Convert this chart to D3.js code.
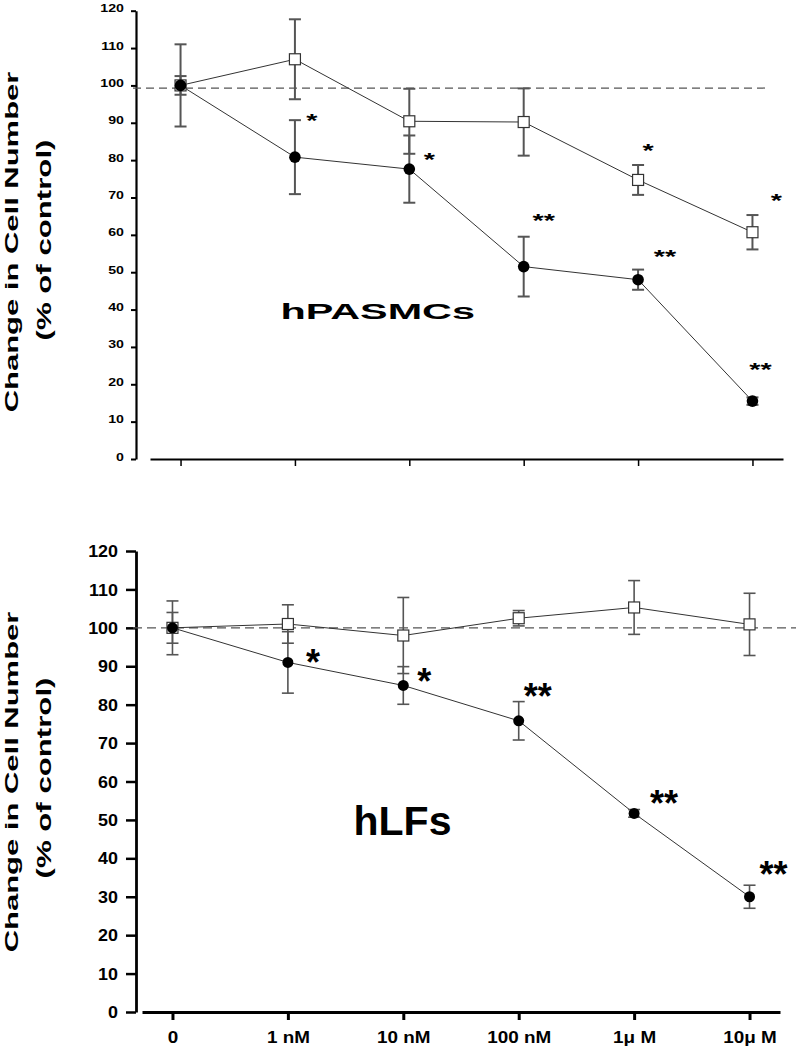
<!DOCTYPE html>
<html>
<head>
<meta charset="utf-8">
<script src="https://cdn.jsdelivr.net/npm/d3@7/dist/d3.min.js"></script>
<style>
  html, body { margin: 0; padding: 0; background: #fff; }
  svg { display: block; }
  text { font-family: "Liberation Sans", Arial, sans-serif; font-weight: bold; fill: #000; }
</style>
</head>
<body>
<svg id="chart" width="796" height="1050"></svg>
<script>
// ---------------- data ----------------
const categories = ["0", "1 nM", "10 nM", "100 nM", "1\u03bc M", "10\u03bc M"];
const yTicks = [0, 10, 20, 30, 40, 50, 60, 70, 80, 90, 100, 110, 120];

// Top panel: hPASMCs
const pasmcSquare    = [100, 107, 90.4, 90.2, 74.7, 60.7];
const pasmcSquareErr = [11, 10.7, 8.7, 9, 4, 4.6];
const pasmcCircle    = [100, 80.8, 77.6, 51.5, 48, 15.5];
const pasmcCircleErr = [2.5, 9.9, 9, 8, 2.7, 1];
const pasmcRef = 99.3;
const pasmcStars = [
  { cat: 1, y: 91.6, text: "*" },
  { cat: 2, y: 81.2, text: "*" },
  { cat: 3, y: 64.8, text: "**" },
  { cat: 4, y: 83.6, text: "*" },
  { cat: 5, y: 70.2, text: "*" },
  { cat: 4, y: 55.2, text: "**" },
  { cat: 5, y: 24.9, text: "**" }
];

// Bottom panel: hLFs
const hlfSquare    = [100, 101, 98, 102.5, 105.3, 100.9];
const hlfSquareErr = [7, 5, 9.9, 2, 7, 8.1];
const hlfCircle    = [100, 91, 85, 75.8, 51.7, 30];
const hlfCircleErr = [4, 8, 4.9, 5, 1, 3];
const hlfRef = 100;
const hlfStars = [
  { cat: 1, y: 92.9, text: "*" },
  { cat: 2, y: 87.9, text: "*" },
  { cat: 3, y: 84.0, text: "**" },
  { cat: 4, y: 56.2, text: "**" },
  { cat: 5, y: 37.7, text: "**" }
];

const yLabel1 = "Change in Cell Number";
const yLabel2 = "(% of control)";

// ---------------- drawing ----------------
const svg = d3.select("#chart");
svg.append("rect").attr("width", 796).attr("height", 1050).attr("fill", "#fff");

function drawPanel(cfg) {
  const g = svg.append("g");
  const x = d3.scalePoint().domain(categories).range(cfg.xRange).padding(cfg.xPad);
  const y = d3.scaleLinear().domain([0, 120]).range(cfg.yRange);

  // y axis
  const ya = g.append("g").attr("transform", `translate(${cfg.yAxisX},0)`)
    .call(d3.axisLeft(y).tickValues(yTicks).tickSize(cfg.yTickLen).tickSizeOuter(0));
  ya.select(".domain").attr("stroke", "#000").attr("stroke-width", cfg.axisW);
  ya.selectAll(".tick line").attr("stroke", "#000").attr("stroke-width", cfg.tickW);
  ya.selectAll(".tick text")
    .attr("x", 0).attr("dy", cfg.yLabDy).attr("text-anchor", "end")
    .attr("transform", `translate(${-cfg.yLabOff},${cfg.yLabShift}) scale(${cfg.yLabSx},1)`)
    .style("font-size", cfg.yLabSize + "px")
    .style("font-family", "'Liberation Sans', Arial, sans-serif")
    .style("font-weight", "bold");

  // x axis
  const xa = g.append("g").attr("transform", `translate(0,${cfg.yRange[0]})`)
    .call(d3.axisBottom(x).tickSize(cfg.xTickLen).tickSizeOuter(0)
      .tickFormat(cfg.showX ? (d => d) : () => ""));
  xa.select(".domain").attr("stroke", "#000").attr("stroke-width", cfg.axisW);
  xa.selectAll(".tick line").attr("stroke", "#000").attr("stroke-width", cfg.xTickW);
  xa.selectAll(".tick text")
    .attr("y", 0).attr("dy", 0).attr("text-anchor", "middle")
    .attr("transform", `translate(0,${cfg.xLabOff}) scale(${cfg.xLabSx},1)`)
    .style("font-size", cfg.xLabSize + "px")
    .style("font-family", "'Liberation Sans', Arial, sans-serif")
    .style("font-weight", "bold");

  // reference dashed line
  g.append("line")
    .attr("x1", cfg.refX[0]).attr("x2", cfg.refX[1])
    .attr("y1", y(cfg.ref)).attr("y2", y(cfg.ref))
    .attr("stroke", "#555").attr("stroke-width", 1.2)
    .attr("stroke-dasharray", cfg.dash);

  const line = d3.line().x((d, i) => x(categories[i])).y(d => y(d));
  [cfg.sq, cfg.ci].forEach(vals => {
    g.append("path").datum(vals).attr("d", line)
      .attr("fill", "none").attr("stroke", "#333").attr("stroke-width", 1);
  });

  // error bars
  function errBars(vals, errs) {
    const eg = g.append("g").attr("stroke", "#555").attr("stroke-width", cfg.errW);
    vals.forEach((v, i) => {
      const cx = x(categories[i]);
      eg.append("line").attr("x1", cx).attr("x2", cx).attr("y1", y(v - errs[i])).attr("y2", y(v + errs[i]));
      [v - errs[i], v + errs[i]].forEach(e => {
        eg.append("line").attr("x1", cx - cfg.capW / 2).attr("x2", cx + cfg.capW / 2)
          .attr("y1", y(e)).attr("y2", y(e));
      });
    });
  }
  errBars(cfg.sq, cfg.sqErr);
  errBars(cfg.ci, cfg.ciErr);

  // markers
  g.selectAll(".sq").data(cfg.sq).enter().append("rect")
    .attr("x", (d, i) => x(categories[i]) - cfg.sqSize / 2)
    .attr("y", d => y(d) - cfg.sqSize / 2)
    .attr("width", cfg.sqSize).attr("height", cfg.sqSize)
    .attr("fill", "#fff").attr("stroke", "#333").attr("stroke-width", 1.2);
  g.selectAll(".ci").data(cfg.ci).enter().append("circle")
    .attr("cx", (d, i) => x(categories[i]))
    .attr("cy", d => y(d))
    .attr("r", cfg.r).attr("fill", "#000");

  // significance stars
  cfg.stars.forEach((s, k) => {
    const sx = x(categories[s.cat]) + cfg.starDx[k];
    const sy = y(s.y) + cfg.starSize * 0.55;
    g.append("text")
      .attr("transform", `translate(${sx},${sy}) scale(${cfg.starSx},1)`)
      .attr("text-anchor", "middle")
      .style("font-size", cfg.starSize + "px")
      .text(s.text);
  });

  // panel title
  g.append("text")
    .attr("transform", `translate(${cfg.title.x},${cfg.title.y}) scale(${cfg.title.sx},1)`)
    .attr("text-anchor", "start")
    .style("font-size", cfg.title.size + "px")
    .text(cfg.title.text);

  // y axis title (two lines)
  g.append("text")
    .attr("transform", `translate(18,${cfg.yTitleY1}) rotate(-90) scale(1.63,1)`)
    .attr("text-anchor", "middle").style("font-size", "19px").text(yLabel1);
  g.append("text")
    .attr("transform", `translate(51,${cfg.yTitleY2}) rotate(-90) scale(1.6,1)`)
    .attr("text-anchor", "middle").style("font-size", "19.5px").text(yLabel2);
}

drawPanel({
  xRange: [150, 783], xPad: 0.267,
  yRange: [459, 10.7],
  yAxisX: 136, yTickLen: 5, axisW: 2.2, tickW: 2,
  yLabDy: 0, yLabOff: 12, yLabShift: 1, yLabSx: 1.35, yLabSize: 10.5,
  xTickLen: 7, xTickW: 1.5, showX: false, xLabOff: 0, xLabSx: 1, xLabSize: 10,
  ref: pasmcRef, refX: [133, 767], dash: "8,5",
  sq: pasmcSquare, sqErr: pasmcSquareErr, ci: pasmcCircle, ciErr: pasmcCircleErr,
  errW: 2, capW: 12, sqSize: 11, r: 5.8,
  stars: pasmcStars, starDx: [17, 20, 20, 10, 24, 27, 8], starSize: 18, starSx: 1.6,
  title: { text: "hPASMCs", x: 280.5, y: 319.3, size: 22, sx: 1.88 },
  yTitleY1: 242, yTitleY2: 240
});

drawPanel({
  xRange: [142, 780], xPad: 0.264,
  yRange: [1012, 551],
  yAxisX: 136, yTickLen: 10, axisW: 2.8, tickW: 2.5,
  yLabDy: "0.35em", yLabOff: 18, yLabShift: 0, yLabSx: 1.12, yLabSize: 16,
  xTickLen: 8, xTickW: 3, showX: true, xLabOff: 31.3, xLabSx: 1.18, xLabSize: 16,
  ref: hlfRef, refX: [133, 796], dash: "9,5",
  sq: hlfSquare, sqErr: hlfSquareErr, ci: hlfCircle, ciErr: hlfCircleErr,
  errW: 1.6, capW: 12, sqSize: 11, r: 5.5,
  stars: hlfStars, starDx: [25, 21, 19, 30, 24], starSize: 36, starSx: 1,
  title: { text: "hLFs", x: 353.5, y: 835, size: 41, sx: 1 },
  yTitleY1: 782, yTitleY2: 778
});
</script>
</body>
</html>
